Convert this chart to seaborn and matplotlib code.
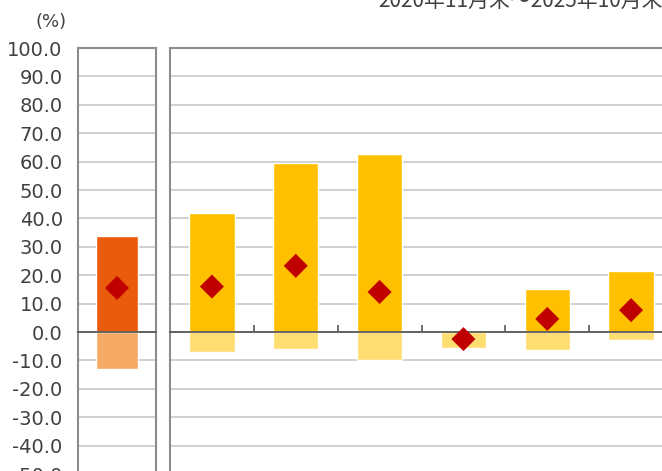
import matplotlib
matplotlib.use('Agg')
import matplotlib.pyplot as plt
import seaborn as sns
import pandas as pd
import numpy as np

sns.set_theme(style='white')
plt.rcParams['font.family'] = ['DejaVu Sans', 'Noto Sans CJK JP']

# ===== dados =====
titulo = "2020年11月末～2025年10月末"
unidade = "(%)"

# painel da esquerda (1 barra)
cat_esq = ["A"]
max_esq = [33.8]
min_esq = [-13.2]
med_esq = [15.5]

# painel da direita (6 barras)
cat_dir = ["B1", "B2", "B3", "B4", "B5", "B6"]
max_dir = [41.9, 59.6, 62.6, 0.6, 15.1, 21.5]
min_dir = [-7.2, -5.9, -10.0, -5.8, -6.2, -2.8]
med_dir = [16.0, 23.3, 14.1, -2.5, 4.6, 7.7]

y_ticks = np.arange(-50, 101, 10)

# cores
laranja = "#EA5B0C"
laranja_claro = "#F4AA64"
amarelo = "#FFC000"
amarelo_claro = "#FFDD70"
vermelho = "#C00000"
cinza_borda = "#8C8C8C"
cinza_grade = "#C8C8C8"
cinza_zero = "#595959"
cor_texto = "#404040"

W, H = 662, 471
fig = plt.figure(figsize=(W / 100, H / 100), dpi=100)

y_min, y_max = -60, 100
px_por_un = 2.84
topo_px = 48
base_px = topo_px + (y_max - y_min) * px_por_un


def eixo(x0, x1):
    return fig.add_axes([x0 / W, (H - base_px) / H, (x1 - x0) / W, (base_px - topo_px) / H])


ax1 = eixo(78, 156)
ax2 = eixo(170, 673)


def desenha(ax, cats, maxs, mins, meds, cor, cor_clara):
    df = pd.DataFrame({"cat": cats, "max": maxs, "min": mins, "med": meds})
    df["pos"] = np.arange(len(df))
    sns.barplot(data=df, x="cat", y="max", color=cor, width=0.54, saturation=1,
                ax=ax, zorder=2)
    sns.barplot(data=df, x="cat", y="min", color=cor_clara, width=0.54, saturation=1,
                ax=ax, zorder=2)
    sns.scatterplot(data=df, x="pos", y="med", marker="D", s=150, color=vermelho,
                    edgecolor="none", ax=ax, zorder=4)
    ax.set_xlim(-0.5, len(df) - 0.5)
    ax.set_ylim(y_min, y_max)
    ax.set_yticks(y_ticks)
    ax.yaxis.grid(True, color=cinza_grade, linewidth=1.2, zorder=0)
    ax.set_axisbelow(True)
    ax.set_xlabel("")
    ax.set_ylabel("")
    for lado in ["left", "right", "top"]:
        ax.spines[lado].set_color(cinza_borda)
        ax.spines[lado].set_linewidth(1.5)
    ax.spines["bottom"].set_position(("data", 0))
    ax.spines["bottom"].set_color(cinza_zero)
    ax.spines["bottom"].set_linewidth(1.3)
    ax.spines["bottom"].set_zorder(3)


desenha(ax1, cat_esq, max_esq, min_esq, med_esq, laranja, laranja_claro)
desenha(ax2, cat_dir, max_dir, min_dir, med_dir, amarelo, amarelo_claro)

# eixo y só no painel da esquerda
ax1.tick_params(axis="y", length=0, pad=11, labelsize=14, labelcolor=cor_texto)
ax1.set_yticklabels([f"{v:.1f}" for v in y_ticks])
ax1.set_xticks([])
ax2.set_yticklabels([])
ax2.tick_params(axis="y", length=0)

# marcas entre categorias sobre a linha do zero
ax2.set_xticks(np.arange(0.5, len(cat_dir) - 0.5, 1))
ax2.set_xticklabels([])
ax2.tick_params(axis="x", direction="in", length=5, width=1.2, color=cinza_zero, bottom=True)

fig.text(51 / W, 1 - 22 / H, unidade, ha="center", va="center", fontsize=13, color=cor_texto)
fig.text(378 / W, 1 - 7 / H, titulo, ha="left", va="baseline", fontsize=15, color=cor_texto,
         family=['Noto Sans CJK JP', 'DejaVu Sans'])

fig.savefig("out.png", dpi=100)
